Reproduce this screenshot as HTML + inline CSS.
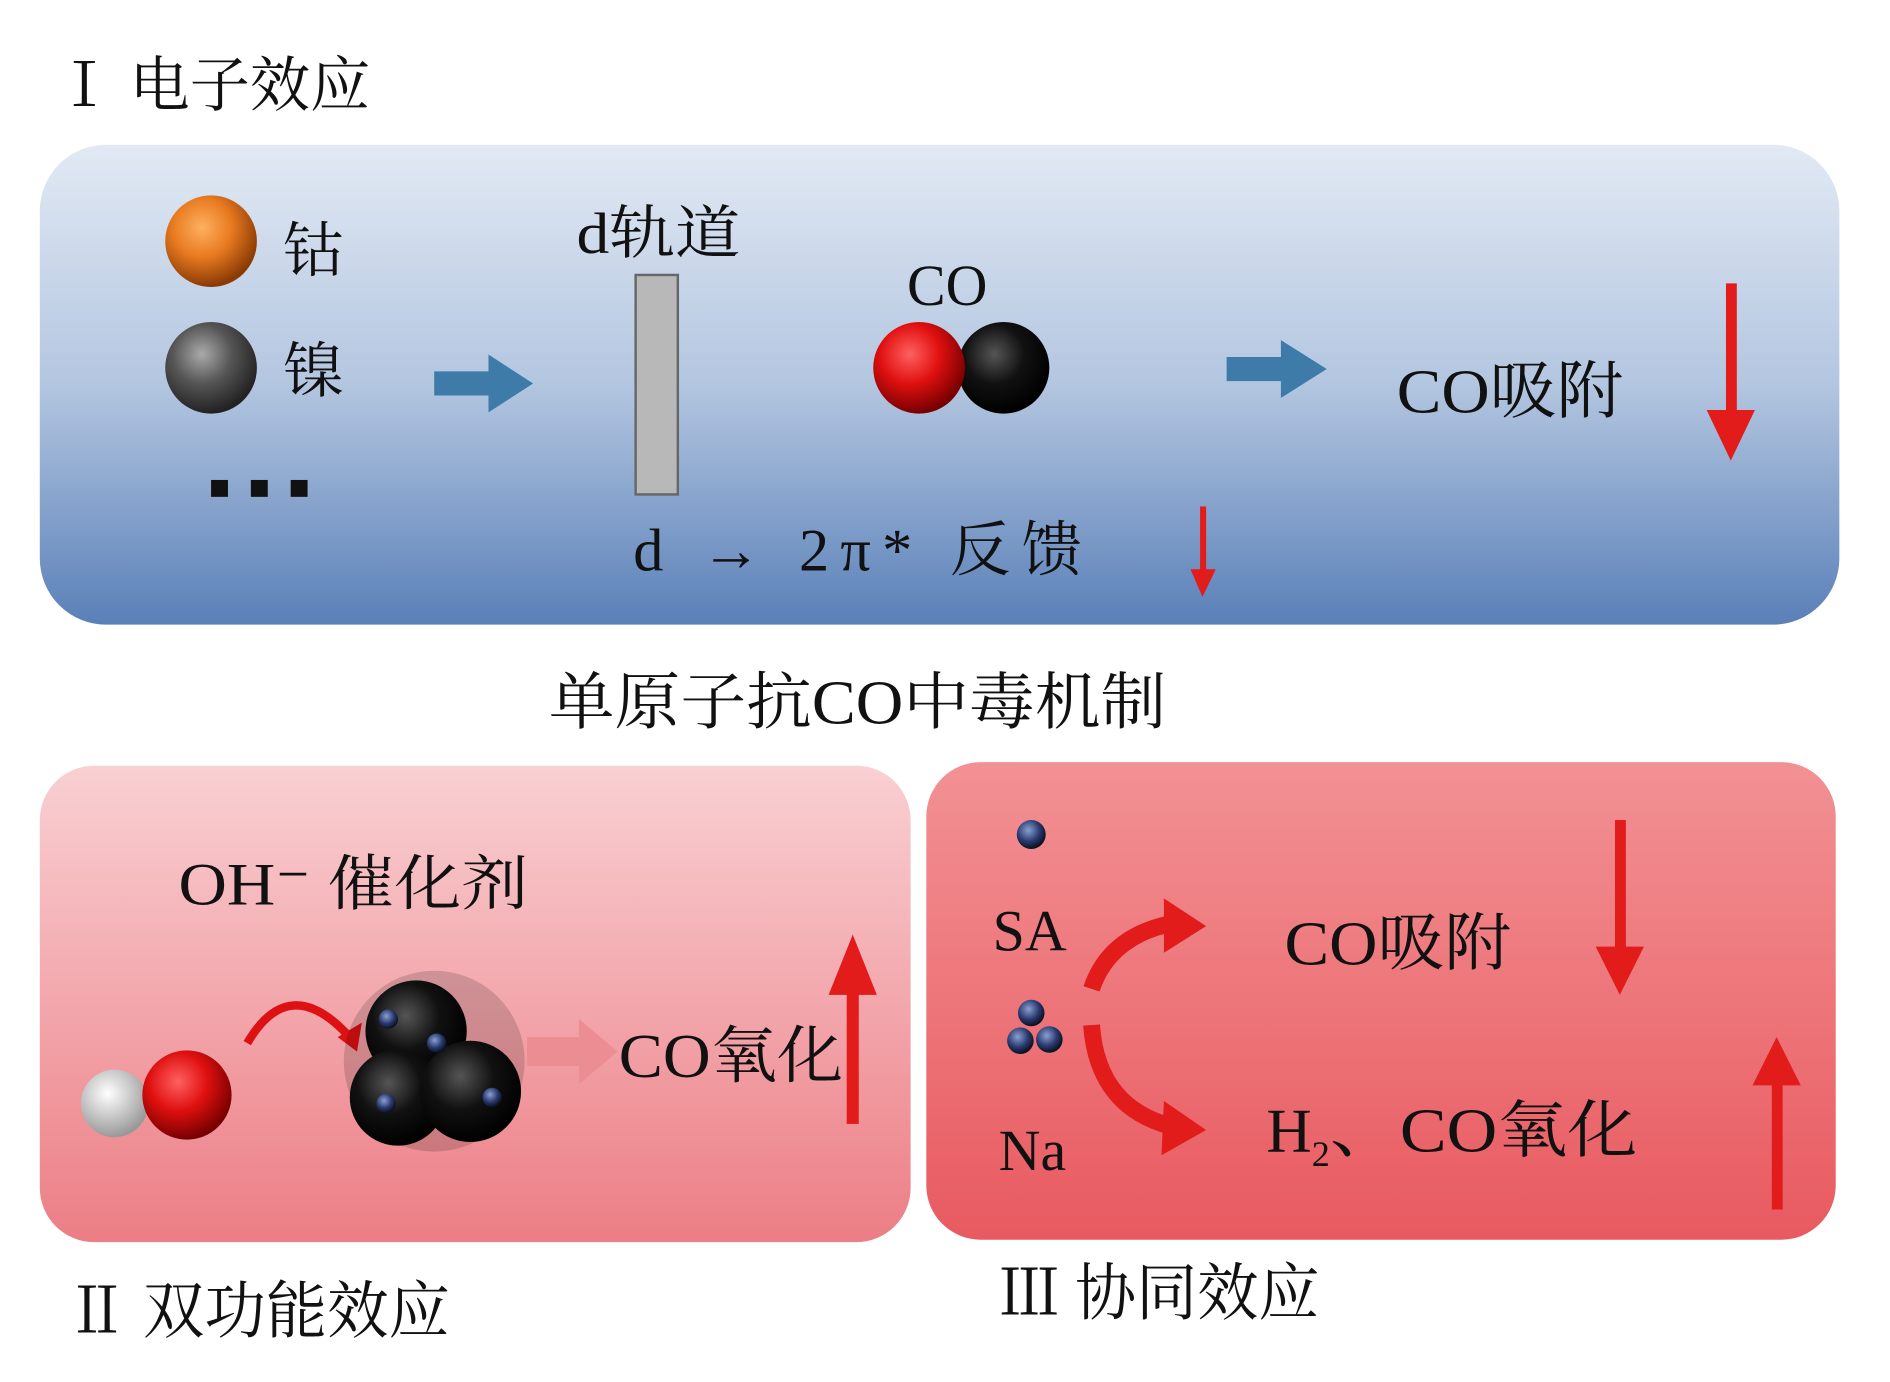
<!DOCTYPE html>
<html><head><meta charset="utf-8"><style>
html,body{margin:0;padding:0;background:#fff;width:1890px;height:1382px;overflow:hidden}
svg{display:block}
text{font-family:"Liberation Serif","Noto Serif CJK SC",serif;fill:#111}
</style></head><body>
<svg width="1890" height="1382" viewBox="0 0 1567 1146" preserveAspectRatio="none" xmlns="http://www.w3.org/2000/svg">
<defs>
<linearGradient id="gb" x1="0" y1="0" x2="0" y2="1"><stop offset="0" stop-color="#e2e9f4"/><stop offset="0.5" stop-color="#b3c6e0"/><stop offset="1" stop-color="#5a80b8"/></linearGradient>
<linearGradient id="gp" x1="0" y1="0" x2="0" y2="1"><stop offset="0" stop-color="#f9d0d3"/><stop offset="1" stop-color="#ec7e85"/></linearGradient>
<linearGradient id="gr" x1="0" y1="0" x2="0" y2="1"><stop offset="0" stop-color="#f29194"/><stop offset="1" stop-color="#e85a60"/></linearGradient>
<radialGradient id="or" cx="0.4" cy="0.35" r="0.65"><stop offset="0" stop-color="#ffb060"/><stop offset="0.5" stop-color="#e87a20"/><stop offset="1" stop-color="#8a3a05"/></radialGradient>
<radialGradient id="gy" cx="0.4" cy="0.35" r="0.65"><stop offset="0" stop-color="#aaa"/><stop offset="0.5" stop-color="#555"/><stop offset="1" stop-color="#222"/></radialGradient>
<radialGradient id="rd" cx="0.4" cy="0.35" r="0.65"><stop offset="0" stop-color="#ff6060"/><stop offset="0.5" stop-color="#e01010"/><stop offset="1" stop-color="#700"/></radialGradient>
<radialGradient id="bk" cx="0.4" cy="0.35" r="0.65"><stop offset="0" stop-color="#555"/><stop offset="0.5" stop-color="#111"/><stop offset="1" stop-color="#000"/></radialGradient>
<radialGradient id="wh" cx="0.4" cy="0.35" r="0.65"><stop offset="0" stop-color="#fff"/><stop offset="1" stop-color="#999"/></radialGradient>
<radialGradient id="nv" cx="0.4" cy="0.35" r="0.65"><stop offset="0" stop-color="#8aa0d0"/><stop offset="0.6" stop-color="#2a3a70"/><stop offset="1" stop-color="#0a1020"/></radialGradient>
</defs>
<text x="45" y="88" font-size="50" textLength="262" lengthAdjust="spacingAndGlyphs">Ⅰ 电子效应</text>
<rect x="33" y="120" width="1492" height="398" rx="55" fill="url(#gb)"/>
<circle cx="175" cy="200" r="38" fill="url(#or)"/>
<circle cx="175" cy="305" r="38" fill="url(#gy)"/>
<text x="235" y="225" font-size="50">钴</text>
<text x="235" y="325" font-size="50">镍</text>
<rect x="175" y="398" width="14" height="14" fill="#111"/><rect x="208" y="398" width="14" height="14" fill="#111"/><rect x="241" y="398" width="14" height="14" fill="#111"/>
<polygon points="360,308 405,308 405,294 442,318 405,342 405,328 360,328" fill="#3e7ba8"/>
<text x="478" y="210" font-size="48" textLength="136" lengthAdjust="spacingAndGlyphs">d轨道</text>
<rect x="527" y="228" width="35" height="182" fill="#b8b8b8" stroke="#666" stroke-width="2"/>
<text x="752" y="253" font-size="48">CO</text>
<circle cx="832" cy="305" r="38" fill="url(#bk)"/>
<circle cx="762" cy="305" r="38" fill="url(#rd)"/>
<polygon points="1017,296 1062,296 1062,282 1100,306 1062,330 1062,316 1017,316" fill="#3e7ba8"/>
<text x="1158" y="342" font-size="52" textLength="188" lengthAdjust="spacingAndGlyphs">CO吸附</text>
<rect x="1431" y="235" width="9" height="110" fill="#e21b1b"/><polygon points="1415,340 1455,340 1435,382" fill="#e21b1b"/>
<text x="525" y="473" font-size="50" textLength="372" lengthAdjust="spacing">d  →  2π*  反馈</text>
<rect x="995" y="420" width="5" height="55" fill="#e21b1b"/><polygon points="987,472 1008,472 997,495" fill="#e21b1b"/>
<text x="455" y="600" font-size="52" textLength="512" lengthAdjust="spacingAndGlyphs">单原子抗CO中毒机制</text>
<rect x="33" y="635" width="722" height="395" rx="45" fill="url(#gp)"/>
<rect x="768" y="632" width="754" height="396" rx="45" fill="url(#gr)"/>
<text x="148" y="750" font-size="50" textLength="290" lengthAdjust="spacingAndGlyphs">OH⁻ 催化剂</text>
<circle cx="95" cy="915" r="28" fill="url(#wh)"/>
<circle cx="155" cy="908" r="37" fill="url(#rd)"/>
<path d="M205,865 Q240,805 290,860" fill="none" stroke="#d11" stroke-width="7"/>
<polygon points="280,860 300,848 296,872" fill="#d11"/>
<circle cx="360" cy="880" r="75" fill="#000" opacity="0.15"/>
<circle cx="345" cy="855" r="42" fill="url(#bk)"/>
<circle cx="330" cy="910" r="40" fill="url(#bk)"/>
<circle cx="390" cy="905" r="42" fill="url(#bk)"/>
<circle cx="322" cy="845" r="8" fill="url(#nv)"/><circle cx="362" cy="865" r="8" fill="url(#nv)"/><circle cx="320" cy="915" r="8" fill="url(#nv)"/><circle cx="408" cy="910" r="8" fill="url(#nv)"/>
<polygon points="437,860 480,860 480,845 512,872 480,899 480,884 437,884" fill="#ec8c93"/>
<text x="513" y="893" font-size="52" textLength="186" lengthAdjust="spacingAndGlyphs">CO氧化</text>
<rect x="702" y="820" width="10" height="112" fill="#e21b1b"/><polygon points="687,825 727,825 707,775" fill="#e21b1b"/>
<circle cx="855" cy="692" r="12" fill="url(#nv)"/>
<text x="823" y="788" font-size="48">SA</text>
<circle cx="855" cy="840" r="11" fill="url(#nv)"/><circle cx="846" cy="863" r="11" fill="url(#nv)"/><circle cx="870" cy="862" r="11" fill="url(#nv)"/>
<text x="828" y="970" font-size="48">Na</text>
<path d="M905,820 Q920,775 975,765" fill="none" stroke="#e21b1b" stroke-width="14"/>
<polygon points="965,745 1000,768 965,790" fill="#e21b1b"/>
<path d="M905,850 Q910,920 975,935" fill="none" stroke="#e21b1b" stroke-width="14"/>
<polygon points="965,913 1000,937 963,958" fill="#e21b1b"/>
<text x="1065" y="800" font-size="52" textLength="188" lengthAdjust="spacingAndGlyphs">CO吸附</text>
<rect x="1339" y="680" width="9" height="110" fill="#e21b1b"/><polygon points="1323,785 1363,785 1343,825" fill="#e21b1b"/>
<text x="1050" y="955" font-size="52">H<tspan font-size="30" dy="12">2</tspan><tspan dy="-12" textLength="255" lengthAdjust="spacingAndGlyphs">、CO氧化</tspan></text>
<rect x="1469" y="895" width="9" height="108" fill="#e21b1b"/><polygon points="1453,900 1493,900 1473,860" fill="#e21b1b"/>
<text x="55" y="1105" font-size="52" textLength="318" lengthAdjust="spacingAndGlyphs">Ⅱ 双功能效应</text>
<text x="828" y="1090" font-size="52" textLength="266" lengthAdjust="spacingAndGlyphs">Ⅲ 协同效应</text>
</svg>
</body></html>
